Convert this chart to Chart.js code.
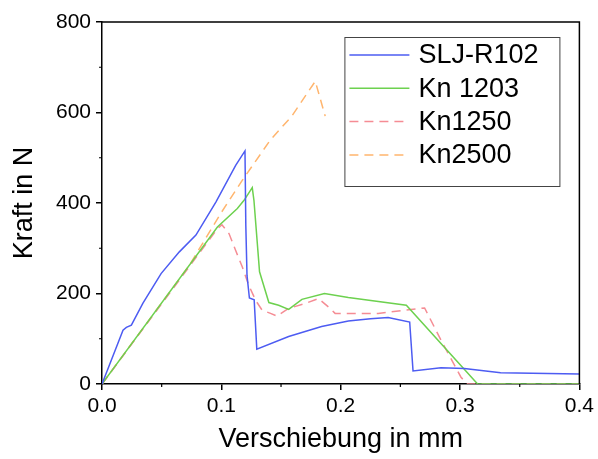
<!DOCTYPE html>
<html>
<head>
<meta charset="utf-8">
<script src="https://cdn.jsdelivr.net/npm/chart.js@4"></script>
<style>
  html, body { margin: 0; padding: 0; background: #fff; }
  #wrap { width: 598px; height: 459px; }
</style>
</head>
<body>
<div id="wrap"><canvas id="chart" width="598" height="459"></canvas></div>
<script>
// Kraft-Verschiebung curves
const sljX = [0, 0.0176, 0.0204, 0.0246, 0.0342, 0.0495, 0.0648, 0.0787, 0.0954, 0.112, 0.1198, 0.1205, 0.1215, 0.1235, 0.1275, 0.1297, 0.1564, 0.184, 0.2064, 0.225, 0.2397, 0.2578, 0.2606, 0.284, 0.3036, 0.334, 0.4];
const sljY = [0, 119, 125, 130, 178, 244, 292, 329, 402, 483, 515, 350, 240, 190, 186, 77, 105, 127, 139, 144, 147, 137, 29, 36, 34, 25, 22];

const kn1203X = [0, 0.0967, 0.1134, 0.119, 0.1259, 0.1273, 0.132, 0.1398, 0.148, 0.1564, 0.1675, 0.1864, 0.2064, 0.255, 0.3147, 0.4];
const kn1203Y = [0, 347, 388, 406, 434, 406, 248, 180, 174, 165, 187, 200, 191, 174, 0, 0];

const kn1250X = [0, 0.0967, 0.1005, 0.1065, 0.112, 0.1175, 0.123, 0.1287, 0.1342, 0.1412, 0.1467, 0.1564, 0.1703, 0.1814, 0.1898, 0.1953, 0.2314, 0.2703, 0.284, 0.3008, 0.306, 0.4];
const kn1250Y = [0, 343, 352, 332, 295, 259, 218, 185, 163, 156, 150, 167, 178, 189, 170, 156, 156, 168, 97, 15, 0, 0];

const kn2500X = [0, 0.0731, 0.0995, 0.1175, 0.141, 0.159, 0.1787, 0.187];
const kn2500Y = [0, 262, 377, 450, 539, 592, 669, 592];

const seriesNames = ["SLJ-R102", "Kn 1203", "Kn1250", "Kn2500"];
const xTicks = [0, 0.1, 0.2, 0.3, 0.4];
const yTicks = [0, 200, 400, 600, 800];
const xMinor = [0.05, 0.15, 0.25, 0.35];
const yMinor = [100, 300, 500, 700];

const COLORS = {
  blue: "#4d5cf2",
  green: "#6dd14f",
  red: "#f58c94",
  orange: "#ffb56e",
  axis: "#000000",
};

const FONT = "'Liberation Sans', Arial, sans-serif";

function toPoints(xs, ys) {
  return xs.map((x, i) => ({ x, y: ys[i] }));
}

// frame on top/right, minor ticks, boxed legend
const framePlugin = {
  id: "frame",
  afterDraw(chart) {
    const { ctx, chartArea: a, scales } = chart;
    ctx.save();
    ctx.strokeStyle = COLORS.axis;
    ctx.lineWidth = 1.5;
    ctx.beginPath();
    ctx.moveTo(a.left, a.top);
    ctx.lineTo(a.right, a.top);
    ctx.lineTo(a.right, a.bottom);
    ctx.stroke();

    ctx.lineWidth = 1.2;
    ctx.beginPath();
    xMinor.forEach(v => {
      const px = scales.x.getPixelForValue(v);
      ctx.moveTo(px, a.bottom);
      ctx.lineTo(px, a.bottom + 3);
    });
    yMinor.forEach(v => {
      const py = scales.y.getPixelForValue(v);
      ctx.moveTo(a.left, py);
      ctx.lineTo(a.left - 3, py);
    });
    ctx.stroke();

    // legend
    const bx = a.right - 235, by = a.top + 15, bw = 215, bh = 149;
    ctx.fillStyle = "#fff";
    ctx.fillRect(bx, by, bw, bh);
    ctx.strokeStyle = "#444";
    ctx.lineWidth = 1;
    ctx.strokeRect(bx + 0.5, by + 0.5, bw, bh);
    ctx.font = "27px " + FONT;
    ctx.textBaseline = "middle";
    chart.data.datasets.forEach((ds, i) => {
      const ly = by + 18 + i * 33.3;
      ctx.strokeStyle = ds.borderColor;
      ctx.lineWidth = ds.borderWidth;
      ctx.setLineDash(ds.borderDash || []);
      ctx.beginPath();
      ctx.moveTo(bx + 5, ly);
      ctx.lineTo(bx + 65, ly);
      ctx.stroke();
      ctx.setLineDash([]);
      ctx.fillStyle = "#000";
      ctx.fillText(ds.label, bx + 74, ly + 1);
    });
    ctx.restore();
  }
};

const lineDefaults = { fill: false, pointRadius: 0, borderWidth: 1.5, tension: 0 };

new Chart(document.getElementById("chart"), {
  type: "line",
  data: {
    datasets: [
      { ...lineDefaults, label: seriesNames[0], data: toPoints(sljX, sljY), borderColor: COLORS.blue },
      { ...lineDefaults, label: seriesNames[1], data: toPoints(kn1203X, kn1203Y), borderColor: COLORS.green },
      { ...lineDefaults, label: seriesNames[2], data: toPoints(kn1250X, kn1250Y), borderColor: COLORS.red, borderDash: [9, 6] },
      { ...lineDefaults, label: seriesNames[3], data: toPoints(kn2500X, kn2500Y), borderColor: COLORS.orange, borderDash: [9, 6] },
    ]
  },
  options: {
    responsive: false,
    animation: false,
    layout: { padding: { top: 22, right: 16, left: 0, bottom: 0 } },
    plugins: { legend: { display: false }, tooltip: { enabled: false } },
    scales: {
      x: {
        type: "linear",
        min: 0, max: 0.4,
        afterFit(scale) { scale.height = 75; },
        afterBuildTicks(scale) { scale.ticks = xTicks.map(v => ({ value: v })); },
        ticks: { color: "#000", font: { family: FONT, size: 21 }, padding: 4, maxRotation: 0, callback: v => v.toFixed(1) },
        grid: { drawOnChartArea: false, drawTicks: true, tickLength: 6, color: COLORS.axis, lineWidth: 1.5 },
        border: { color: COLORS.axis, width: 1.5 },
        title: { display: true, text: "Verschiebung in mm", color: "#000", font: { family: FONT, size: 27 }, padding: { top: 0, bottom: 3 } }
      },
      y: {
        min: 0, max: 800,
        afterFit(scale) { scale.width = 102; },
        afterBuildTicks(scale) { scale.ticks = yTicks.map(v => ({ value: v })); },
        ticks: { color: "#000", font: { family: FONT, size: 21 }, padding: 5, callback: v => String(v) },
        grid: { drawOnChartArea: false, drawTicks: true, tickLength: 6, color: COLORS.axis, lineWidth: 1.5 },
        border: { color: COLORS.axis, width: 1.5 },
        title: { display: true, text: "Kraft in N", color: "#000", font: { family: FONT, size: 27 }, padding: { top: 8, bottom: 0 } }
      }
    }
  },
  plugins: [framePlugin]
});
</script>
</body>
</html>
